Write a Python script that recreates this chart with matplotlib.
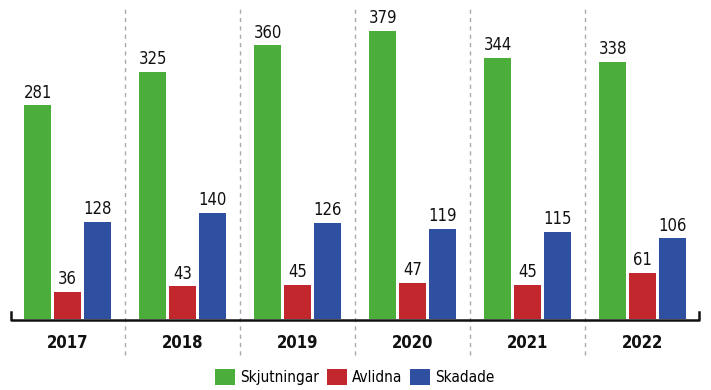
import matplotlib
matplotlib.use("Agg")
import matplotlib.pyplot as plt
import numpy as np

years = ["2017", "2018", "2019", "2020", "2021", "2022"]
skjutningar = [281, 325, 360, 379, 344, 338]
avlidna = [36, 43, 45, 47, 45, 61]
skadade = [128, 140, 126, 119, 115, 106]

series = [("Skjutningar", skjutningar, "#4cae3a"),
          ("Avlidna", avlidna, "#c1272d"),
          ("Skadade", skadade, "#2f4fa0")]

plt.rcParams["font.family"] = ["DejaVu Sans"]
plt.rcParams["font.stretch"] = "condensed"

fig = plt.figure(figsize=(7.11, 3.9), dpi=100)
ax = fig.add_axes([10 / 711, 71 / 390, 690 / 711, 304 / 390])

x = np.arange(len(years))
offsets = [-0.26, 0.0, 0.26]
width = 0.235

for (name, vals, color), off in zip(series, offsets):
    bars = ax.bar(x + off, vals, width, color=color, label=name)
    for b, v in zip(bars, vals):
        ax.text(b.get_x() + b.get_width() / 2, v + 5, str(v),
                ha="center", va="bottom", fontsize=12, color="#111111",
                fontstretch="condensed")

ax.set_xlim(-0.5, len(years) - 0.5)
ax.set_ylim(0, 400)

# dashed group separators
for i in range(1, len(years)):
    ax.plot([i - 0.5, i - 0.5], [-47, 409], color="#aaaaaa", lw=1,
            ls=(0, (3, 3)), clip_on=False, zorder=0)

# bracket style base line
ax.plot([-0.49, -0.49, len(years) - 0.51, len(years) - 0.51], [9, -1.5, -1.5, 9],
        color="#111111", lw=1.8, clip_on=False)

for i, yr in enumerate(years):
    ax.text(i, -31, yr, ha="center", va="center", fontsize=12,
            fontweight="bold", color="#111111", fontstretch="condensed")

for s in ax.spines.values():
    s.set_visible(False)
ax.set_xticks([])
ax.set_yticks([])

fig.legend(loc="center", bbox_to_anchor=(355 / 711, 13 / 390), ncol=3,
           frameon=False, prop={"size": 11, "stretch": "condensed"},
           handlelength=1.3, handleheight=1.3,
           handletextpad=0.35, columnspacing=0.5)

fig.savefig("out.png", dpi=100)
